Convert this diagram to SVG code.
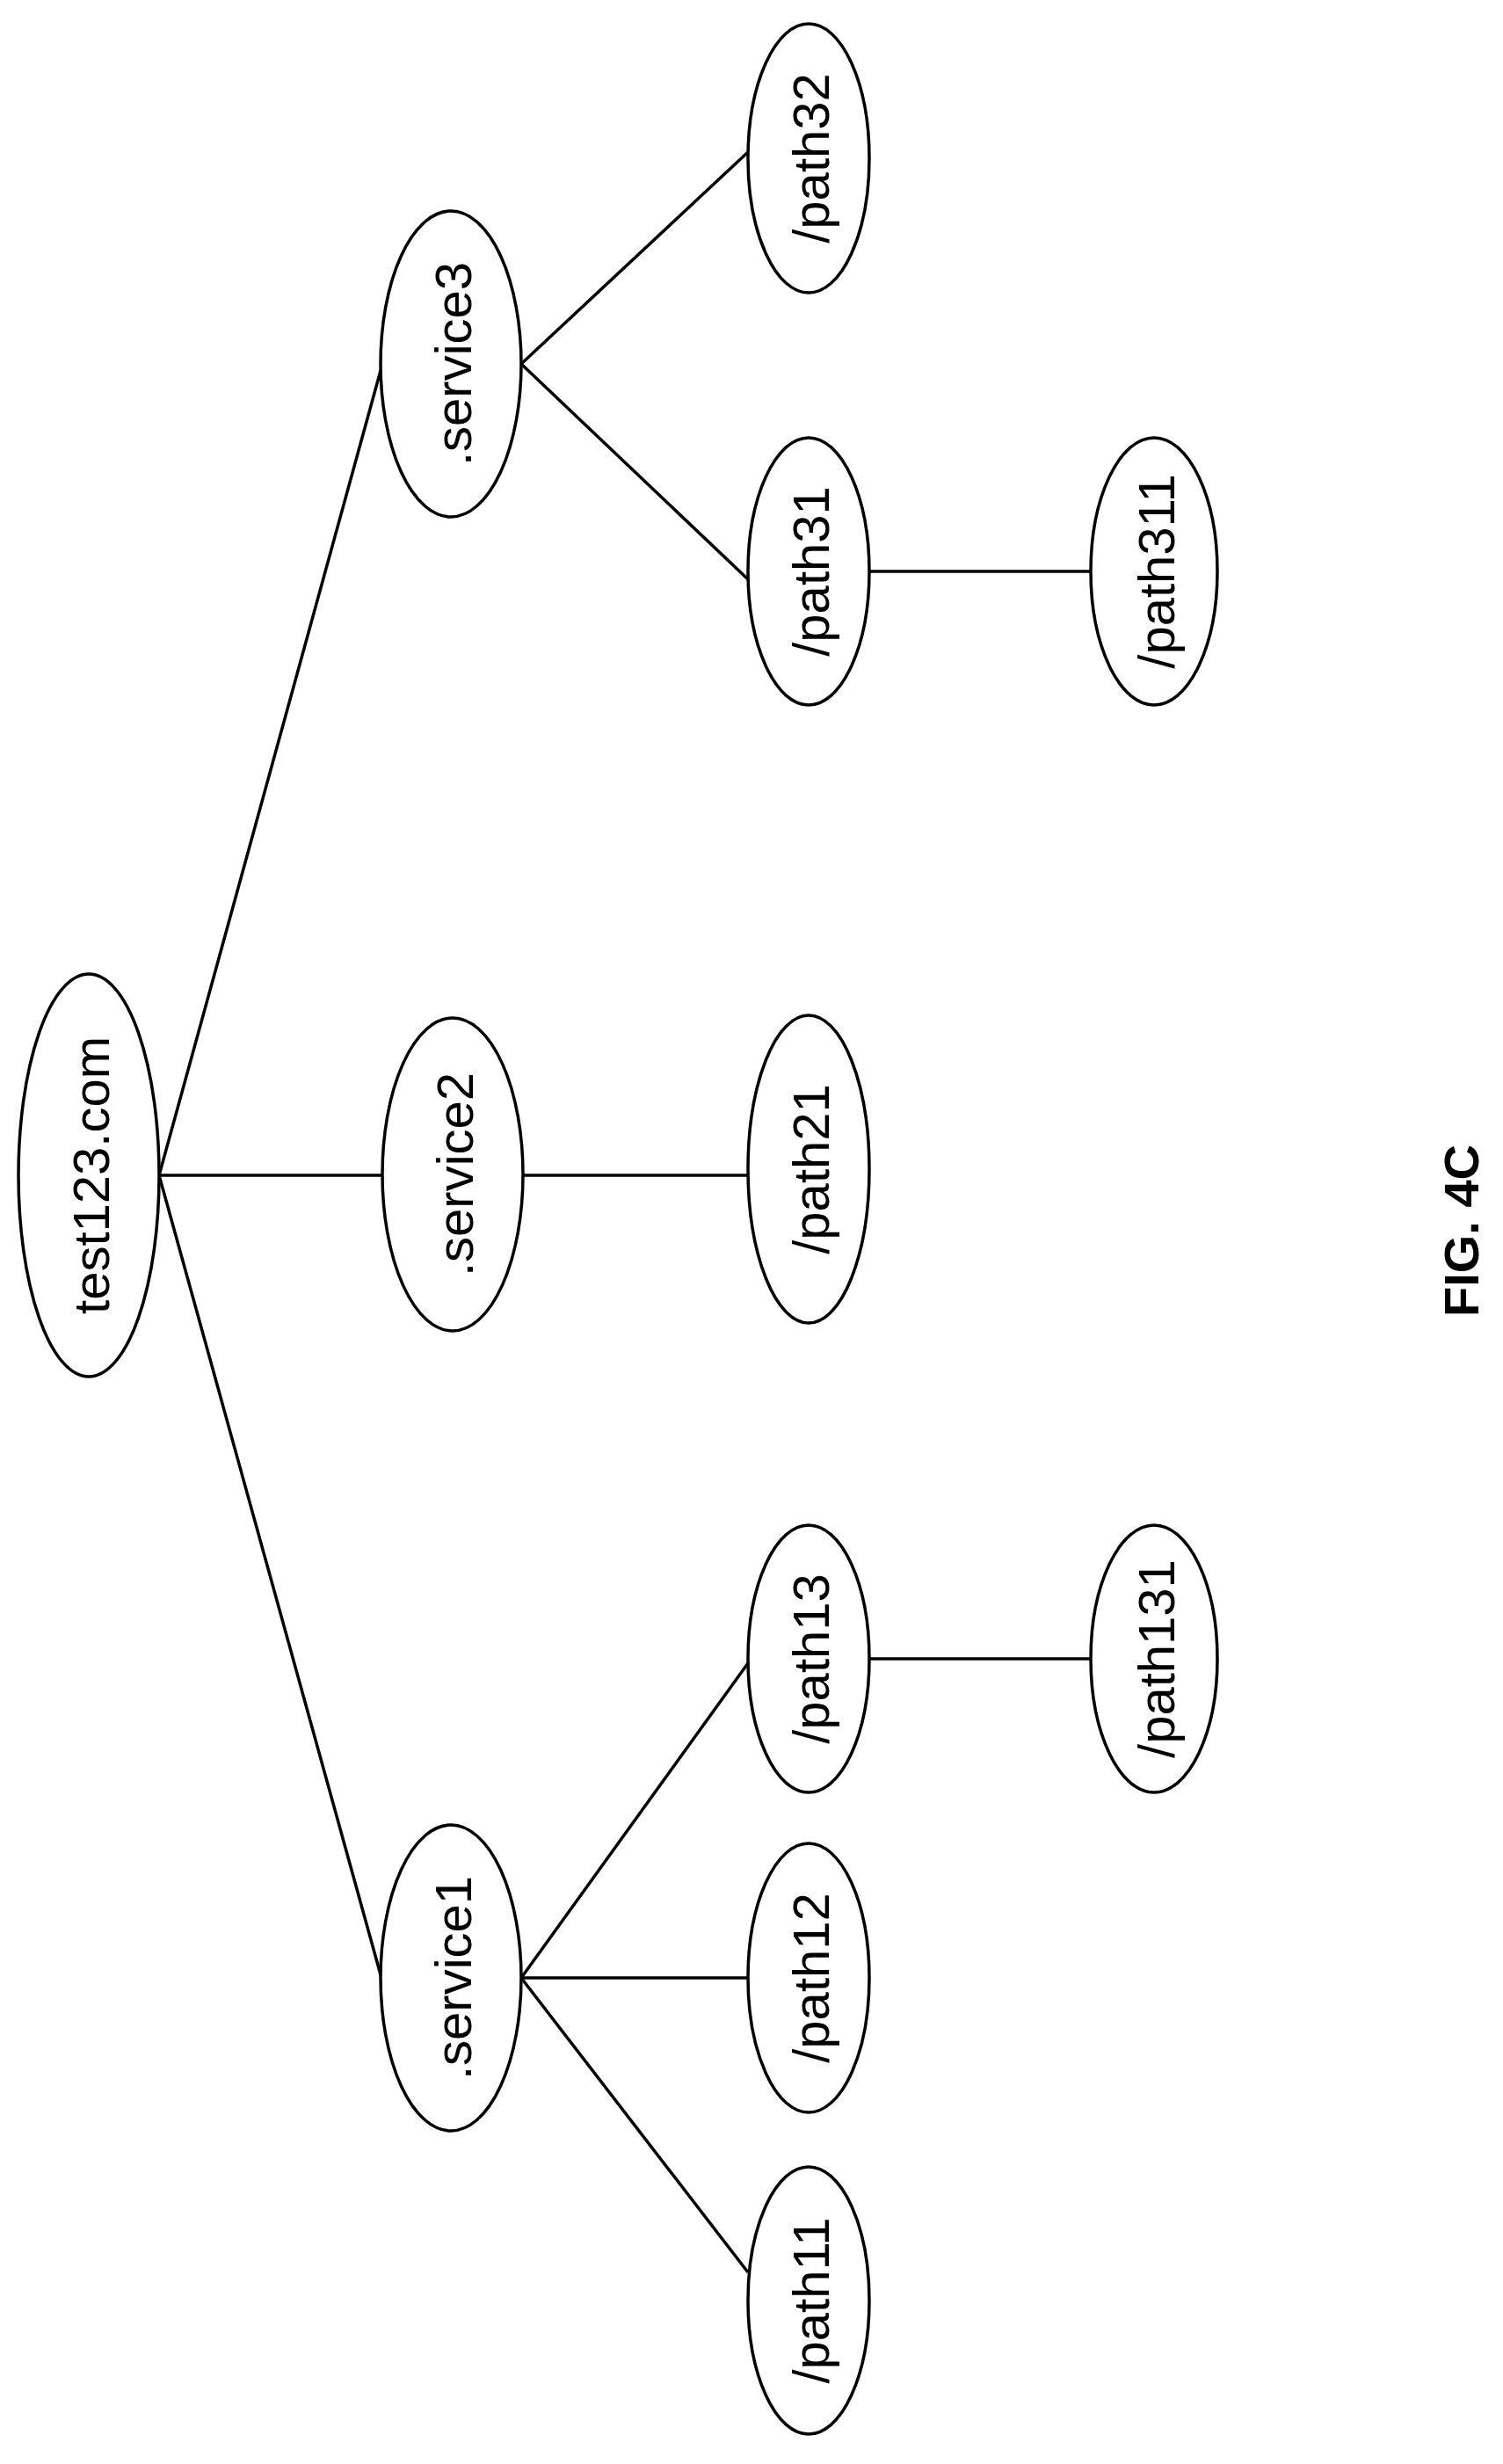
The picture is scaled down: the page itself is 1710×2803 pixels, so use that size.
<svg xmlns="http://www.w3.org/2000/svg" width="1710" height="2803" viewBox="0 0 1710 2803">
<style>
ellipse{fill:#fff;stroke:#000;stroke-width:3.5}
line{stroke:#000;stroke-width:3.5}
text{font-family:"Liberation Sans",Arial,sans-serif;font-size:58px;text-anchor:middle;dominant-baseline:central}
</style>
<rect width="1710" height="2803" fill="#fff"/>
<g id="connectors">
<line x1="181" y1="1337" x2="434" y2="418"/>
<line x1="181" y1="1337" x2="434" y2="2250"/>
<line x1="181" y1="1337" x2="435" y2="1337"/>
<line x1="596" y1="1337" x2="851" y2="1337"/>
<line x1="593" y1="414" x2="851" y2="173"/>
<line x1="593" y1="414" x2="851" y2="659"/>
<line x1="989" y1="650" x2="1241" y2="650"/>
<line x1="593" y1="2250" x2="851" y2="1892"/>
<line x1="593" y1="2250" x2="851" y2="2250"/>
<line x1="593" y1="2250" x2="851" y2="2585"/>
<line x1="989" y1="1887" x2="1241" y2="1887"/>
</g>
<g id="n-test123"><ellipse cx="101" cy="1337" rx="80" ry="229"/><text transform="translate(103,1337) rotate(-90)">test123.com</text></g>
<g id="n-service3"><ellipse cx="513" cy="414" rx="80" ry="174"/><text transform="translate(515,414) rotate(-90)">.service3</text></g>
<g id="n-service2"><ellipse cx="515" cy="1336" rx="80" ry="178"/><text transform="translate(517,1336) rotate(-90)">.service2</text></g>
<g id="n-service1"><ellipse cx="513" cy="2250" rx="80" ry="174"/><text transform="translate(515,2250) rotate(-90)">.service1</text></g>
<g id="n-path32"><ellipse cx="920" cy="180" rx="69" ry="153"/><text transform="translate(922,180) rotate(-90)">/path32</text></g>
<g id="n-path31"><ellipse cx="920" cy="650" rx="69" ry="152"/><text transform="translate(922,650) rotate(-90)">/path31</text></g>
<g id="n-path311"><ellipse cx="1313" cy="650" rx="72" ry="152"/><text transform="translate(1315,650) rotate(-90)">/path311</text></g>
<g id="n-path21"><ellipse cx="920" cy="1330" rx="69" ry="175"/><text transform="translate(922,1330) rotate(-90)">/path21</text></g>
<g id="n-path13"><ellipse cx="920" cy="1887" rx="69" ry="152"/><text transform="translate(922,1887) rotate(-90)">/path13</text></g>
<g id="n-path131"><ellipse cx="1313" cy="1887" rx="72" ry="152"/><text transform="translate(1315,1887) rotate(-90)">/path131</text></g>
<g id="n-path12"><ellipse cx="920" cy="2250" rx="69" ry="153"/><text transform="translate(922,2250) rotate(-90)">/path12</text></g>
<g id="n-path11"><ellipse cx="920" cy="2617" rx="69" ry="152"/><text transform="translate(922,2617) rotate(-90)">/path11</text></g>
<text transform="translate(1662,1400) rotate(-90)" style="font-weight:bold;font-size:56px">FIG. 4C</text>
</svg>
